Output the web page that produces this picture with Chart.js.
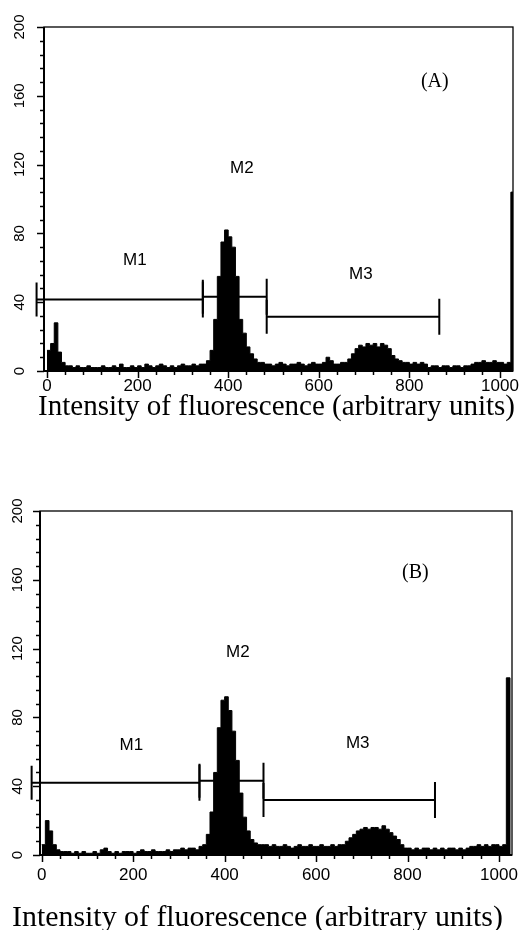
<!DOCTYPE html>
<html><head><meta charset="utf-8">
<script src="https://cdn.jsdelivr.net/npm/chart.js@4"></script>
<style>
html,body{margin:0;padding:0;background:#fff;}
#wrap{position:relative;width:524px;height:930px;overflow:hidden;}
canvas{position:absolute;left:0;}
</style></head><body>
<div id="wrap">
<canvas id="cA" width="524" height="440" style="top:0"></canvas>
<canvas id="cB" width="524" height="490" style="top:440px"></canvas>
</div>
<script>
// ---------- data ----------
const BIN_WIDTH = 8; // channels per histogram bin (bin i starts at i*8)
const countsA = [
 12,16,28,11,5,3,
 3,2,3,2,2,3,2,2,2,3,2,2,3,2,4,2,2,3,2,3,2,4,3,2,3,4,3,2,3,2,3,4,3,3,4,3,4,
 4,6,12,30,55,75,82,78,72,55,30,22,14,10,7,5,5,4,
 4,3,4,5,4,3,4,4,5,4,3,4,5,4,4,
 5,8,6,4,4,5,5,7,10,13,15,14,16,15,16,14,16,15,13,9,7,6,5,5,4,5,4,5,4,2,
 3,3,2,3,3,2,3,3,2,3,3,4,
 5,5,6,5,5,6,5,5,4,
 5,104
];
const countsB = [
 6,20,14,6,3,2,
 2,2,1,2,1,2,1,1,2,1,3,4,2,1,2,1,2,2,2,1,2,3,2,2,3,2,2,2,3,2,3,3,4,3,4,4,3,
 5,6,12,25,48,74,90,92,84,72,55,36,22,14,9,7,6,6,
 6,5,6,5,5,6,5,4,5,6,5,5,6,5,5,6,5,5,6,5,6,6,
 8,10,12,14,15,16,15,16,16,15,17,15,13,11,9,6,4,
 4,3,4,3,4,4,3,4,3,4,3,4,4,3,4,3,4,5,
 5,6,5,6,5,6,6,5,6,
 103,0
];
const xTickLabels = [0, 200, 400, 600, 800, 1000];
const yTickLabels = [0, 40, 80, 120, 160, 200];
const gateNames = ['M1', 'M2', 'M3'];
const gateStartA = [-23, 344, 485];
const gateEndA   = [344, 485, 866];
const gateLevelA = [41.6, 43.1, 31.5];
const gateStartB = [-22, 345, 485];
const gateEndB   = [345, 485, 860];
const gateLevelB = [42, 43.2, 32];
const panelNames = ['(A)', '(B)'];
const axisTitle = 'Intensity of fluorescence (arbitrary units)';

// ---------- drawing ----------
function histPoints(counts){
  const pts = counts.map((v,i)=>({x:i*BIN_WIDTH, y:v}));
  pts.push({x:counts.length*BIN_WIDTH, y:0});
  return pts;
}

const decorPlugin = {
  id:'decor',
  afterDraw(chart, args, o){
    const {ctx, chartArea:a, scales:{x, y}} = chart;
    ctx.save();
    ctx.strokeStyle = '#000'; ctx.fillStyle = '#000';
    // frame
    ctx.lineWidth = 1.3;
    ctx.strokeRect(a.left, a.top, a.right - a.left, a.bottom - a.top);
    ctx.lineWidth = 2;
    ctx.beginPath();
    ctx.moveTo(a.left, a.top); ctx.lineTo(a.left, a.bottom); ctx.lineTo(a.right, a.bottom);
    ctx.stroke();
    // x ticks
    ctx.lineWidth = 1.5;
    for (let v = 0; v <= 1000; v += 40){
      const px = Math.round(x.getPixelForValue(v)) + 0.5;
      const len = (v % 200 === 0) ? 7 : 4;
      ctx.beginPath(); ctx.moveTo(px, a.bottom); ctx.lineTo(px, a.bottom + len); ctx.stroke();
    }
    // y ticks
    for (let v = 0; v <= 200; v += 8){
      const py = Math.round(y.getPixelForValue(v)) + 0.5;
      const len = (v % 40 === 0) ? 7 : 4;
      ctx.beginPath(); ctx.moveTo(a.left, py); ctx.lineTo(a.left - len, py); ctx.stroke();
    }
    // x tick labels
    ctx.font = '17px "Liberation Sans", Arial, sans-serif';
    ctx.textAlign = 'center'; ctx.textBaseline = 'middle';
    xTickLabels.forEach(v => ctx.fillText(String(v), x.getPixelForValue(v), a.bottom + o.xLabelGap));
    // y tick labels (rotated)
    ctx.font = '15px "Liberation Sans", Arial, sans-serif';
    yTickLabels.forEach(v => {
      ctx.save();
      ctx.translate(o.yLabelX, y.getPixelForValue(v));
      ctx.rotate(-Math.PI/2);
      ctx.fillText(String(v), 0, 0);
      ctx.restore();
    });
    // gates
    ctx.lineWidth = 2;
    gateNames.forEach((name, i) => {
      const x0 = x.getPixelForValue(o.gs[i]), x1 = x.getPixelForValue(o.ge[i]);
      const py = y.getPixelForValue(o.gl[i]);
      ctx.beginPath();
      ctx.moveTo(x0, py); ctx.lineTo(x1, py);
      ctx.moveTo(x0, py - 17); ctx.lineTo(x0, py + 17);
      ctx.moveTo(x1, py - 18); ctx.lineTo(x1, py + 18);
      ctx.stroke();
      ctx.font = '17px "Liberation Sans", Arial, sans-serif';
      ctx.fillText(name, x.getPixelForValue(o.labPos[i][0]), y.getPixelForValue(o.labPos[i][1]));
    });
    // panel name
    ctx.font = '20px "Liberation Serif", "Times New Roman", serif';
    ctx.fillText(o.panel, x.getPixelForValue(o.panelPos[0]), y.getPixelForValue(o.panelPos[1]));
    // axis title, fitted to the printed width
    ctx.font = '25px "Liberation Serif", "Times New Roman", serif';
    const w = ctx.measureText(axisTitle).width;
    const fs = 25 * o.titleWidth / w;
    ctx.font = fs.toFixed(2) + 'px "Liberation Serif", "Times New Roman", serif';
    ctx.fillText(axisTitle, o.titleX, o.titleY);
    ctx.restore();
  }
};

function makeChart(id, counts, xmin, xmax, pad, decor){
  return new Chart(document.getElementById(id), {
    type:'line',
    data:{datasets:[{
      data: histPoints(counts),
      stepped:'before',
      fill:'origin',
      backgroundColor:'#000',
      borderColor:'#000',
      borderWidth:1,
      pointRadius:0
    }]},
    options:{
      responsive:false, animation:false,
      layout:{padding:pad},
      plugins:{legend:{display:false}, tooltip:{enabled:false}, decor:decor},
      scales:{
        x:{type:'linear', min:xmin, max:xmax, display:false},
        y:{type:'linear', min:0, max:200, display:false}
      }
    },
    plugins:[decorPlugin]
  });
}

makeChart('cA', countsA, -6.6, 1028.7, {left:44, right:11, top:27, bottom:69}, {
  gs:gateStartA, ge:gateEndA, gl:gateLevelA,
  labPos:[[194,64.5],[430,118],[693,56]],
  panel:panelNames[0], panelPos:[856,168],
  xLabelGap:15, yLabelX:20,
  titleWidth:477, titleX:276.5, titleY:407
});
makeChart('cB', countsB, -3.7, 1028.4, {left:40, right:12, top:71, bottom:75}, {
  gs:gateStartB, ge:gateEndB, gl:gateLevelB,
  labPos:[[196,64],[429,117.6],[691,65]],
  panel:panelNames[1], panelPos:[817,164],
  xLabelGap:20, yLabelX:18,
  titleWidth:491, titleX:257.5, titleY:478
});
</script>
</body></html>
